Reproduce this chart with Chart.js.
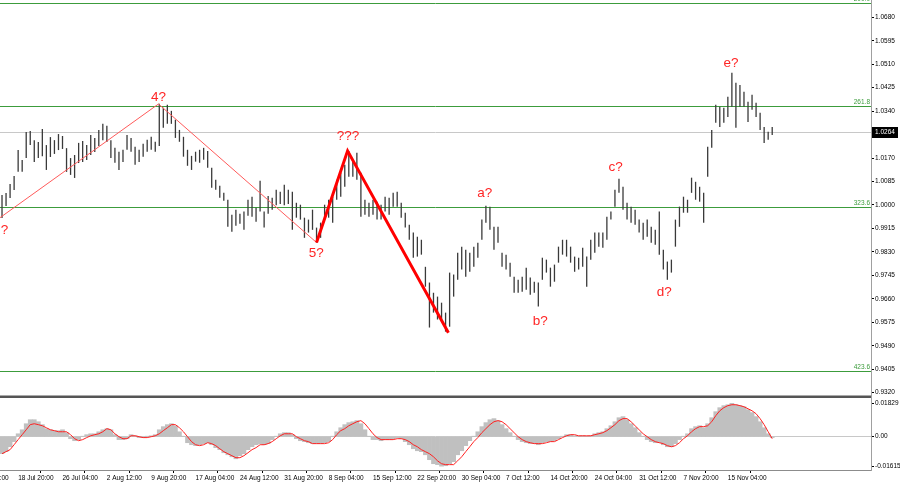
<!DOCTYPE html>
<html>
<head>
<meta charset="utf-8">
<script src="https://cdn.jsdelivr.net/npm/chart.js@4.4.1/dist/chart.umd.min.js"></script>
<style>
  body { margin: 0; background: #fff; width: 900px; height: 485px; overflow: hidden; position: relative; }
  #priceBox { position: absolute; left: 0; top: 0; width: 900px; height: 397px; }
  #oscBox { position: absolute; left: 0; top: 397px; width: 900px; height: 88px; }
</style>
</head>
<body>
<div id="priceBox"><canvas id="priceChart" width="900" height="397"></canvas></div>
<div id="oscBox"><canvas id="oscChart" width="900" height="88"></canvas></div>
<script>
// H4 bars (one bar here ~ 4px)
const highs = [
  1.0036, 1.0043, 1.0076, 1.0105, 1.0199, 1.0163, 1.0264, 1.0268, 1.0235, 1.0228,
  1.0275, 1.0217, 1.0246, 1.0235, 1.0257, 1.0250, 1.0206, 1.0170, 1.0181, 1.0225,
  1.0232, 1.0217, 1.0254, 1.0243, 1.0272, 1.0294, 1.0287, 1.0235, 1.0207, 1.0193,
  1.0200, 1.0254, 1.0243, 1.0211, 1.0200, 1.0222, 1.0236, 1.0247, 1.0229, 1.0367,
  1.0352, 1.0363, 1.0341, 1.0309, 1.0272, 1.0247, 1.0200, 1.0178, 1.0193, 1.0200,
  1.0207, 1.0196, 1.0135, 1.0091, 1.0070, 1.0044, 1.0019, 0.9965, 0.9983, 0.9968,
  0.9976, 1.0019, 1.0030, 0.9990, 1.0088, 0.9976, 1.0033, 1.0026, 1.0055, 1.0048,
  1.0073, 1.0055, 1.0048, 1.0008, 1.0001, 0.9954, 0.9947, 0.9983, 0.9918, 0.9936,
  1.0001, 1.0019, 1.0030, 1.0091, 1.0117, 1.0146, 1.0196, 1.0164, 1.0189, 1.0117,
  1.0019, 1.0008, 1.0019, 1.0012, 1.0001, 1.0030, 1.0026, 1.0044, 1.0048, 1.0008,
  0.9972, 0.9928, 0.9900, 0.9885, 0.9874, 0.9776, 0.9719, 0.9682, 0.9668, 0.9646,
  0.9610, 0.9755, 0.9748, 0.9827, 0.9849, 0.9838, 0.9827, 0.9849, 0.9863, 0.9947,
  0.9997, 0.9994, 0.9921, 0.9921, 0.9827, 0.9820, 0.9791, 0.9740, 0.9729, 0.9740,
  0.9773, 0.9737, 0.9722, 0.9719, 0.9809, 0.9802, 0.9773, 0.9784, 0.9849, 0.9874,
  0.9874, 0.9849, 0.9813, 0.9809, 0.9845, 0.9813, 0.9874, 0.9900, 0.9900, 0.9900,
  0.9957, 0.9976, 1.0055, 1.0095, 1.0066, 1.0008, 0.9994, 0.9983, 0.9947, 0.9936,
  0.9947, 0.9921, 0.9910, 0.9976, 0.9838, 0.9795, 0.9802, 0.9947, 0.9994, 1.0030,
  1.0019, 1.0099, 1.0084, 1.0066, 1.0044, 1.0211, 1.0272, 1.0363, 1.0356, 1.0352,
  1.0392, 1.0479, 1.0443, 1.0435, 1.0410, 1.0374, 1.0399, 1.0370, 1.0334, 1.0283,
  1.0265, 1.0283
];
const lows = [
  0.9953, 0.9996, 1.0025, 1.0054, 1.0120, 1.0120, 1.0170, 1.0217, 1.0156, 1.0170,
  1.0177, 1.0127, 1.0174, 1.0185, 1.0199, 1.0203, 1.0120, 1.0109, 1.0098, 1.0152,
  1.0156, 1.0163, 1.0181, 1.0192, 1.0214, 1.0235, 1.0228, 1.0170, 1.0153, 1.0127,
  1.0156, 1.0200, 1.0193, 1.0146, 1.0156, 1.0175, 1.0193, 1.0200, 1.0193, 1.0214,
  1.0280, 1.0294, 1.0294, 1.0243, 1.0229, 1.0175, 1.0142, 1.0127, 1.0157, 1.0153,
  1.0164, 1.0135, 1.0062, 1.0055, 1.0026, 1.0015, 0.9921, 0.9903, 0.9925, 0.9932,
  0.9910, 0.9961, 0.9957, 0.9939, 0.9976, 0.9918, 0.9968, 0.9983, 0.9999, 1.0004,
  0.9999, 1.0004, 0.9910, 0.9954, 0.9947, 0.9881, 0.9900, 0.9910, 0.9863, 0.9881,
  0.9947, 0.9954, 0.9936, 1.0019, 1.0030, 1.0066, 1.0102, 1.0102, 1.0091, 0.9957,
  0.9965, 0.9957, 0.9965, 0.9947, 0.9947, 0.9976, 0.9965, 0.9994, 0.9994, 0.9954,
  0.9918, 0.9874, 0.9809, 0.9813, 0.9820, 0.9704, 0.9556, 0.9610, 0.9585, 0.9585,
  0.9541, 0.9559, 0.9668, 0.9729, 0.9766, 0.9740, 0.9758, 0.9776, 0.9809, 0.9874,
  0.9936, 0.9910, 0.9838, 0.9863, 0.9776, 0.9766, 0.9740, 0.9682, 0.9682, 0.9686,
  0.9693, 0.9675, 0.9682, 0.9632, 0.9729, 0.9755, 0.9704, 0.9722, 0.9791, 0.9820,
  0.9813, 0.9791, 0.9758, 0.9766, 0.9776, 0.9704, 0.9802, 0.9827, 0.9849, 0.9845,
  0.9874, 0.9947, 0.9994, 1.0044, 0.9983, 0.9947, 0.9936, 0.9928, 0.9900, 0.9874,
  0.9885, 0.9863, 0.9856, 0.9820, 0.9766, 0.9729, 0.9755, 0.9849, 0.9921, 0.9972,
  0.9972, 1.0044, 1.0019, 1.0012, 0.9936, 1.0102, 1.0207, 1.0298, 1.0283, 1.0298,
  1.0319, 1.0356, 1.0280, 1.0356, 1.0356, 1.0301, 1.0345, 1.0319, 1.0272, 1.0225,
  1.0236, 1.0254
];
// oscillator: grey histogram and red signal line
const histogram = [
  -0.0093, -0.0082, -0.0055, -0.0027, 0.0016, 0.0038, 0.0071, 0.0093, 0.0093, 0.0082,
  0.0066, 0.0044, 0.0038, 0.0033, 0.0033, 0.0038, 0.0022, -0.0011, -0.0022, -0.0016,
  0.0002, 0.0011, 0.0016, 0.0016, 0.0027, 0.0038, 0.0044, 0.0038, 0.0011, -0.0016,
  -0.0016, -0.0011, 0.0011, 0.0005, -0.0005, -0.0005, 0.0001, 0.0005, 0.0011, 0.0038,
  0.0055, 0.0066, 0.0071, 0.0060, 0.0027, 0.0001, -0.0033, -0.0044, -0.0049, -0.0044,
  -0.0038, -0.0033, -0.0044, -0.0060, -0.0071, -0.0088, -0.0099, -0.0110, -0.0121, -0.0104,
  -0.0093, -0.0071, -0.0055, -0.0044, -0.0038, -0.0044, -0.0038, -0.0016, 0.0001, 0.0016,
  0.0022, 0.0022, 0.0011, -0.0011, -0.0022, -0.0027, -0.0033, -0.0038, -0.0038, -0.0038,
  -0.0033, -0.0027, 0.0001, 0.0027, 0.0049, 0.0066, 0.0077, 0.0082, 0.0088, 0.0071,
  0.0038, 0.0001, -0.0016, -0.0016, -0.0022, -0.0016, -0.0016, -0.0011, -0.0005, -0.0011,
  -0.0027, -0.0044, -0.0066, -0.0077, -0.0082, -0.0099, -0.0126, -0.0148, -0.0153, -0.01615,
  -0.0159, -0.0148, -0.0137, -0.0099, -0.0077, -0.0049, -0.0022, 0.0001, 0.0027, 0.0055,
  0.0077, 0.0093, 0.0099, 0.0088, 0.0066, 0.0044, 0.0022, 0.0001, -0.0016, -0.0027,
  -0.0033, -0.0038, -0.0038, -0.0044, -0.0033, -0.0027, -0.0027, -0.0022, -0.0011, 0.0001,
  0.0011, 0.0011, 0.0005, 0.0001, 0.0005, 0.0001, 0.0005, 0.0016, 0.0022, 0.0027,
  0.0044, 0.0060, 0.0082, 0.0104, 0.0110, 0.0093, 0.0071, 0.0049, 0.0022, 0.0001,
  -0.0016, -0.0027, -0.0033, -0.0033, -0.0044, -0.0055, -0.0055, -0.0038, -0.0016, 0.0001,
  0.0016, 0.0044, 0.0055, 0.0060, 0.0049, 0.0071, 0.0104, 0.0137, 0.0159, 0.0170,
  0.0175, 0.01829, 0.0175, 0.0170, 0.0164, 0.0148, 0.0132, 0.0110, 0.0082, 0.0049,
  0.0016, -0.0005
];
const signal = [
  -0.0093, -0.0082, -0.0071, -0.0044, -0.0016, 0.0011, 0.0038, 0.0066, 0.0071, 0.0066,
  0.0060, 0.0049, 0.0038, 0.0033, 0.0027, 0.0027, 0.0027, 0.0011, -0.0011, -0.0022,
  -0.0016, -0.0005, 0.0005, 0.0011, 0.0016, 0.0027, 0.0044, 0.0038, 0.0016, 0.0000,
  -0.0011, -0.0011, 0.0005, 0.0005, 0.0000, -0.0005, -0.0005, 0.0000, 0.0005, 0.0016,
  0.0033, 0.0049, 0.0066, 0.0066, 0.0049, 0.0027, 0.0000, -0.0027, -0.0044, -0.0049,
  -0.0044, -0.0033, -0.0038, -0.0049, -0.0066, -0.0082, -0.0093, -0.0104, -0.0115, -0.0115,
  -0.0104, -0.0088, -0.0071, -0.0060, -0.0044, -0.0044, -0.0038, -0.0027, -0.0011, 0.0005,
  0.0016, 0.0016, 0.0016, 0.0000, -0.0011, -0.0022, -0.0027, -0.0038, -0.0038, -0.0038,
  -0.0038, -0.0033, -0.0016, 0.0011, 0.0033, 0.0044, 0.0060, 0.0071, 0.0082, 0.0088,
  0.0071, 0.0044, 0.0016, -0.0005, -0.0016, -0.0016, -0.0016, -0.0016, -0.0011, -0.0011,
  -0.0016, -0.0027, -0.0044, -0.0055, -0.0071, -0.0082, -0.0093, -0.0110, -0.0132, -0.0148,
  -0.0153, -0.0153, -0.0153, -0.0132, -0.0110, -0.0082, -0.0055, -0.0027, -0.0005, 0.0022,
  0.0044, 0.0066, 0.0082, 0.0088, 0.0082, 0.0066, 0.0044, 0.0022, 0.0000, -0.0016,
  -0.0027, -0.0033, -0.0038, -0.0038, -0.0038, -0.0033, -0.0027, -0.0027, -0.0016, -0.0005,
  0.0005, 0.0011, 0.0011, 0.0005, 0.0005, 0.0005, 0.0005, 0.0011, 0.0016, 0.0022,
  0.0033, 0.0049, 0.0066, 0.0088, 0.0099, 0.0099, 0.0082, 0.0060, 0.0038, 0.0016,
  0.0000, -0.0016, -0.0027, -0.0033, -0.0038, -0.0049, -0.0055, -0.0049, -0.0033, -0.0011,
  0.0005, 0.0027, 0.0044, 0.0055, 0.0055, 0.0060, 0.0082, 0.0115, 0.0142, 0.0159,
  0.0170, 0.0175, 0.0175, 0.0170, 0.0164, 0.0153, 0.0142, 0.0126, 0.0099, 0.0066,
  0.0027, -0.0011
];

const priceTicks = [0.9320, 0.9405, 0.9490, 0.9575, 0.9660, 0.9745, 0.9830, 0.9915, 1.0000,
  1.0085, 1.0170, 1.0255, 1.0340, 1.0425, 1.0510, 1.0595, 1.0680];
const oscTicks = [-0.01615, 0, 0.01829];
const oscTickLabels = ['-0.01615', '0.00', '0.01829'];
const dateTickPos = [-7, 4, 15, 26, 37, 48, 59, 70, 81, 92, 103, 114, 125, 136, 147, 158, 169, 180];
const dateLabels = ['11 Jul 12:00', '18 Jul 20:00', '26 Jul 04:00', '2 Aug 12:00', '9 Aug 20:00',
  '17 Aug 04:00', '24 Aug 12:00', '31 Aug 20:00', '8 Sep 04:00', '15 Sep 12:00', '22 Sep 20:00',
  '30 Sep 04:00', '7 Oct 12:00', '14 Oct 20:00', '24 Oct 04:00', '31 Oct 12:00', '7 Nov 20:00',
  '15 Nov 04:00'];

const fibLevels = [1.0732, 1.0359, 0.9994, 0.9399];
const fibLabels = ['200.0', '261.8', '323.6', '423.6'];
const lastPrice = 1.0264;

// wave count drawn on the chart (bar index, price)
const waveThin = [{ x: -0.5, y: 0.9954 }, { x: 38.8, y: 1.0366 }, { x: 78.0, y: 0.9864 }];
const waveBold = [{ x: 78.0, y: 0.9864 }, { x: 85.7, y: 1.0196 }, { x: 110.7, y: 0.9537 }];
const waveLabels = ['?', '4?', '5?', '???', 'a?', 'b?', 'c?', 'd?', 'e?'];
const waveLabelX = [0.6, 38.8, 77.9, 85.8, 119.7, 133.5, 152.2, 164.2, 180.8];
const waveLabelY = [0.9910, 1.0390, 0.9825, 1.0250, 1.0044, 0.9577, 1.0135, 0.9682, 1.0515];

const X_MIN = -0.5, X_MAX = 215.5;
const PRICE_MIN = 0.93043, PRICE_MAX = 1.07427;
const OSC_MIN = -0.01824, OSC_MAX = 0.02174;

const FONT_FAMILY = '"Liberation Sans", Arial, sans-serif';
const AXIS_FONT = { family: FONT_FAMILY, size: 6.5 };
const idx = highs.map((_, i) => i);

const fixRightAxis = (scale) => {
    scale.width = 29;
    scale.paddingTop = 0;
    scale.paddingBottom = 0;
};

const priceOverlay = {
    id: 'priceOverlay',
    beforeDatasetsDraw(chart) {
        const { ctx, chartArea: a, scales: { y } } = chart;
        ctx.save();
        const py = Math.round(y.getPixelForValue(lastPrice)) + 0.5;
        ctx.strokeStyle = '#c8c8c8';
        ctx.lineWidth = 1;
        ctx.beginPath(); ctx.moveTo(a.left, py); ctx.lineTo(a.right, py); ctx.stroke();

        ctx.strokeStyle = '#3c9c3c';
        ctx.fillStyle = '#3c9c3c';
        ctx.font = '6.5px ' + FONT_FAMILY;
        ctx.textAlign = 'right';
        ctx.textBaseline = 'bottom';
        fibLevels.forEach((lv, i) => {
            const ly = Math.round(y.getPixelForValue(lv)) + 0.5;
            ctx.beginPath(); ctx.moveTo(a.left, ly); ctx.lineTo(a.right, ly); ctx.stroke();
            ctx.fillText(fibLabels[i], a.right - 1, ly - 1);
        });
        ctx.restore();
    },
    afterDatasetsDraw(chart) {
        const { ctx, scales: { x, y } } = chart;
        ctx.save();
        ctx.font = '13.5px ' + FONT_FAMILY;
        ctx.fillStyle = '#ff2525';
        ctx.textAlign = 'center';
        ctx.textBaseline = 'middle';
        waveLabels.forEach((t, i) => {
            ctx.fillText(t, x.getPixelForValue(waveLabelX[i]), y.getPixelForValue(waveLabelY[i]));
        });
        ctx.restore();
    },
    afterDraw(chart) {
        const { ctx, chartArea: a, scales: { y } } = chart;
        ctx.save();
        // current price tag on the axis
        const py = Math.round(y.getPixelForValue(lastPrice));
        ctx.fillStyle = '#000';
        ctx.fillRect(a.right + 1, py - 5, 26, 11);
        ctx.fillStyle = '#fff';
        ctx.font = '6.5px ' + FONT_FAMILY;
        ctx.textAlign = 'left';
        ctx.textBaseline = 'middle';
        ctx.fillText(lastPrice.toFixed(4), a.right + 4, py + 0.5);
        // panel separator
        ctx.fillStyle = '#555';
        ctx.fillRect(0, a.bottom - 1.5, a.right, 1.5);
        ctx.restore();
    }
};

new Chart(document.getElementById('priceChart'), {
    type: 'bar',
    data: {
        datasets: [
            { type: 'line', data: waveBold, borderColor: '#ff0000', borderWidth: 3, pointRadius: 0, order: 1 },
            { type: 'line', data: waveThin, borderColor: '#ff5a5a', borderWidth: 1, pointRadius: 0, order: 1 },
            {
                type: 'bar',
                data: idx.map(i => ({ x: i, y: [lows[i], highs[i]] })),
                backgroundColor: '#3a3a3a',
                barThickness: 1.3,
                inflateAmount: 0,
                order: 2
            }
        ]
    },
    options: {
        responsive: false,
        animation: false,
        layout: { padding: 0 },
        plugins: { legend: { display: false }, tooltip: { enabled: false } },
        scales: {
            x: { type: 'linear', min: X_MIN, max: X_MAX, offset: false, display: false },
            y: {
                type: 'linear',
                position: 'right',
                min: PRICE_MIN,
                max: PRICE_MAX,
                afterBuildTicks: s => { s.ticks = priceTicks.map(v => ({ value: v })); },
                afterFit: fixRightAxis,
                ticks: { callback: v => v.toFixed(4), font: AXIS_FONT, color: '#000', padding: 1, autoSkip: false },
                grid: { drawOnChartArea: false, tickLength: 3, color: '#000' },
                border: { display: true, color: '#a0a0a0' }
            }
        }
    },
    plugins: [priceOverlay]
});

const oscFrame = {
    id: 'oscFrame',
    afterDraw(chart) {
        const { ctx, chartArea: a } = chart;
        ctx.save();
        ctx.fillStyle = '#555';
        ctx.fillRect(0, 0, a.right, 1);
        ctx.restore();
    }
};

new Chart(document.getElementById('oscChart'), {
    type: 'bar',
    data: {
        datasets: [
            {
                type: 'line',
                data: idx.map(i => ({ x: i, y: signal[i] })),
                borderColor: '#ff2020',
                borderWidth: 1,
                pointRadius: 0,
                order: 1
            },
            {
                type: 'bar',
                data: idx.map(i => ({ x: i, y: histogram[i] })),
                backgroundColor: '#c0c0c0',
                barPercentage: 1,
                categoryPercentage: 1,
                order: 2
            }
        ]
    },
    options: {
        responsive: false,
        animation: false,
        layout: { padding: 0 },
        plugins: { legend: { display: false }, tooltip: { enabled: false } },
        scales: {
            x: {
                type: 'linear',
                position: 'bottom',
                min: X_MIN,
                max: X_MAX,
                offset: false,
                afterBuildTicks: s => { s.ticks = dateTickPos.map(v => ({ value: v })); },
                afterFit: s => { s.height = 15; s.paddingLeft = 0; s.paddingRight = 0; },
                ticks: {
                    callback: (v, i) => dateLabels[i],
                    align: 'start',
                    maxRotation: 0,
                    autoSkip: false,
                    font: AXIS_FONT,
                    color: '#000',
                    padding: 1
                },
                grid: { drawOnChartArea: false, tickLength: 3, color: '#000' },
                border: { display: true, color: '#8c8c8c' }
            },
            y: {
                type: 'linear',
                position: 'right',
                min: OSC_MIN,
                max: OSC_MAX,
                afterBuildTicks: s => { s.ticks = oscTicks.map(v => ({ value: v })); },
                afterFit: fixRightAxis,
                ticks: { callback: (v, i) => oscTickLabels[i], font: AXIS_FONT, color: '#000', padding: 1, autoSkip: false },
                grid: {
                    color: c => (c.tick && c.tick.value === 0 ? '#c8c8c8' : 'rgba(0,0,0,0)'),
                    tickColor: '#000',
                    tickLength: 3
                },
                border: { display: true, color: '#a0a0a0' }
            }
        }
    },
    plugins: [oscFrame]
});
</script>
</body>
</html>
